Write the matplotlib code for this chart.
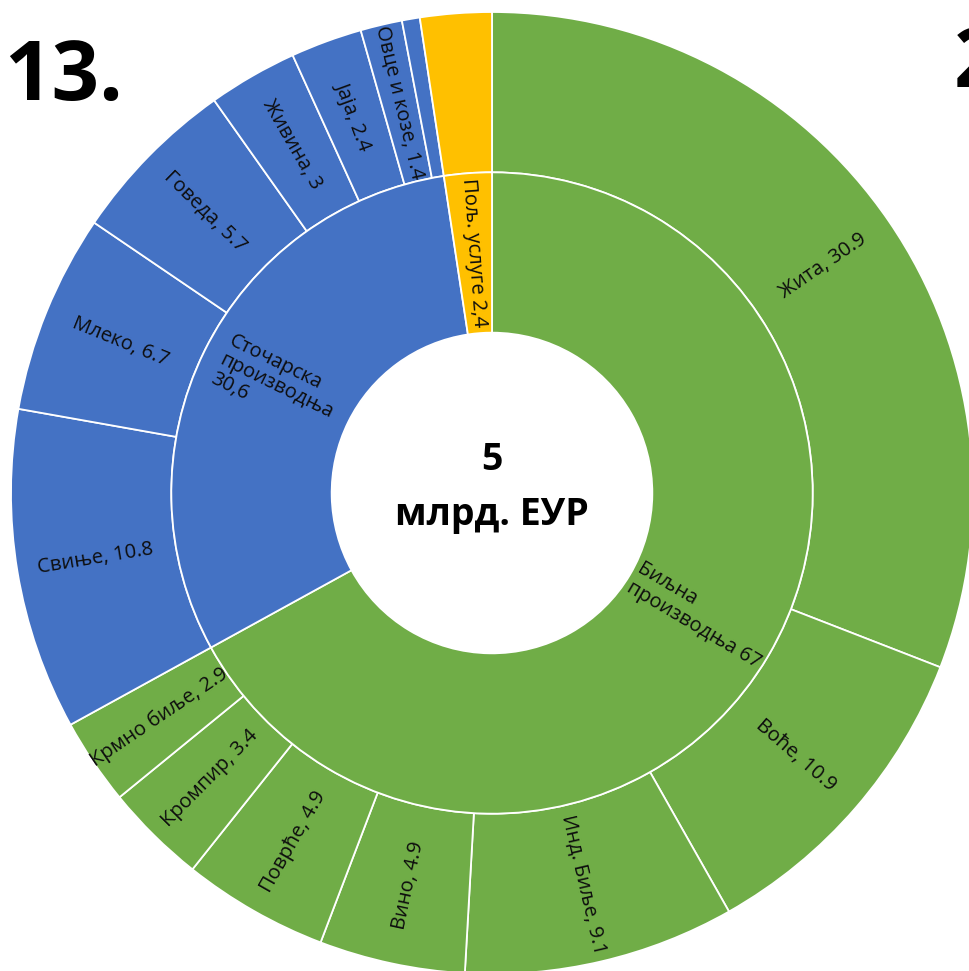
import numpy as np
import matplotlib
matplotlib.use('Agg')
from matplotlib import pyplot as plt

plt.rcParams['font.family'] = ['Open Sans', 'DejaVu Sans']

# inner ring
inner_labels = ['Биљна\nпроизводња 67', 'Сточарска\nпроизводња\n30,6', 'Пољ. услуге 2,4']
inner_values = [67, 30.6, 2.4]
inner_colors = ['#70AD47', '#4472C4', '#FFC000']

# outer ring
outer_labels = ['Жита, 30.9', 'Воће, 10.9', 'Инд. Биље, 9.1', 'Вино, 4.9', 'Поврће, 4.9',
                'Кромпир, 3.4', 'Крмно биље, 2.9',
                'Свиње, 10.8', 'Млеко, 6.7', 'Говеда, 5.7', 'Живина, 3', 'Јаја, 2.4',
                'Овце и козе, 1.4', '',
                '']
outer_values = [30.9, 10.9, 9.1, 4.9, 4.9, 3.4, 2.9,
                10.8, 6.7, 5.7, 3, 2.4, 1.4, 0.6,
                2.4]
outer_colors = ['#70AD47'] * 7 + ['#4472C4'] * 7 + ['#FFC000']

W, H = 969, 971
fig = plt.figure(figsize=(W / 100, H / 100), dpi=100)
# centre of the rings at (492, 493) px from top-left, outer radius 481 px
cx, cy, R = 492, 493, 481
ax = fig.add_axes([(cx - R) / W, (H - cy - R) / H, 2 * R / W, 2 * R / H])

wp = dict(width=1 / 3, edgecolor='white', linewidth=1.3)
outer, _ = ax.pie(outer_values, radius=1, colors=outer_colors, startangle=90,
                  counterclock=False, wedgeprops=wp)
inner, _ = ax.pie(inner_values, radius=2 / 3, colors=inner_colors, startangle=90,
                  counterclock=False, wedgeprops=wp)
ax.set_xlim(-1, 1)
ax.set_ylim(-1, 1)
ax.axis('off')


def radial_label(w, text, r, size, align='center'):
    th = (w.theta1 + w.theta2) / 2
    t = np.deg2rad(th)
    rot = th % 360
    if np.cos(t) < 0:
        rot = rot - 180
    if rot > 180:
        rot -= 360
    ax.text(r * np.cos(t), r * np.sin(t), text, rotation=rot, rotation_mode='anchor',
            ha='center', va='center', fontsize=size, multialignment=align,
            color='#0d0d0d', linespacing=1.1)


for w, lab in zip(outer, outer_labels):
    if lab:
        radial_label(w, lab, 0.835, 14.5)

for w, lab in zip(inner, inner_labels):
    radial_label(w, lab, 0.5, 14.5, align='left')

ax.text(0, 0.069, '5', ha='center', va='center', fontsize=27, fontweight='bold')
ax.text(0, -0.045, 'млрд. ЕУР', ha='center', va='center', fontsize=27, fontweight='bold')

fig.text(0.004, (H - 100) / H, '13.', ha='left', va='baseline', fontsize=60, fontweight='bold')
fig.text(954 / W, (H - 87) / H, '2', ha='left', va='baseline', fontsize=60, fontweight='bold')

fig.savefig('out.png', dpi=100, facecolor='white')
